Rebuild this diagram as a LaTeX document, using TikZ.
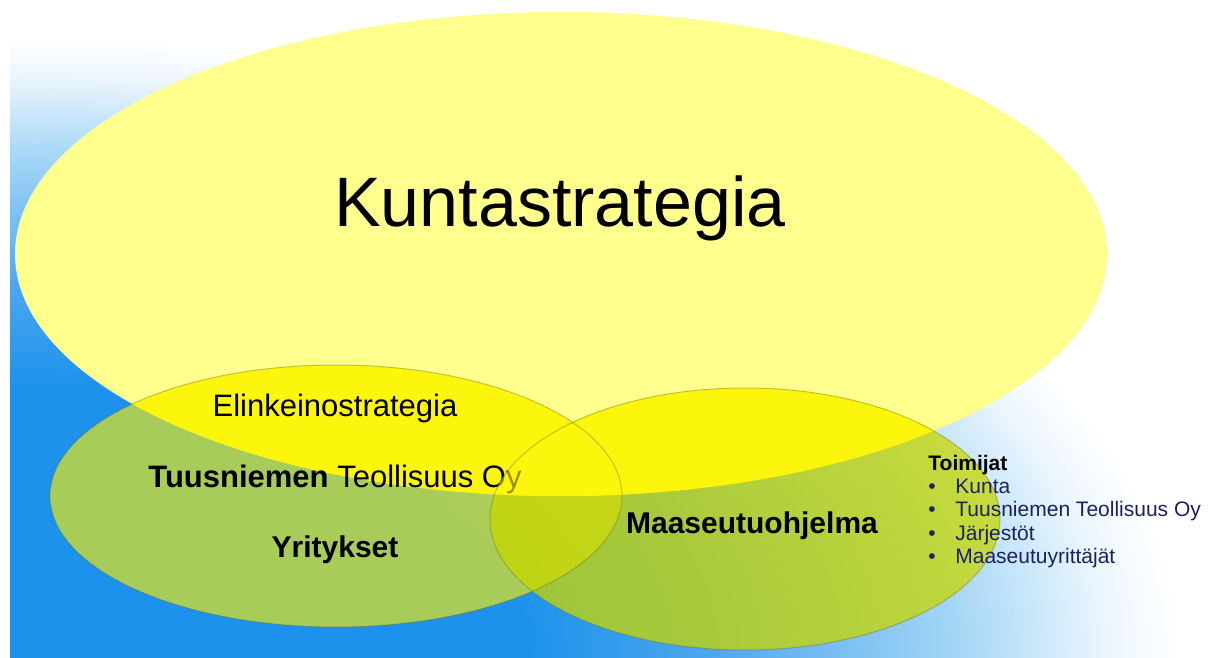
\documentclass[tikz,border=0pt]{standalone}
\usepackage{fontspec}
\setmainfont{Liberation Sans}
\usetikzlibrary{positioning}
\definecolor{skyblue}{RGB}{28,146,236}
\definecolor{skymid}{RGB}{78,166,238}
\definecolor{skylight}{RGB}{160,212,246}
\definecolor{skypale}{RGB}{236,246,253}
\definecolor{kuntayellow}{RGB}{255,255,142}
\definecolor{brightyellow}{RGB}{252,246,12}
\definecolor{elinyellow}{RGB}{255,240,0}
\definecolor{maaolive}{RGB}{200,215,0}
\definecolor{listnavy}{RGB}{26,34,96}
\pgfdeclareradialshading{skyglow}{\pgfpoint{0bp}{0bp}}{color(0bp)=(skyblue); color(11bp)=(skyblue); color(15bp)=(skymid); color(20bp)=(skylight); color(23.5bp)=(skypale); color(25bp)=(white); color(50bp)=(white)}
\newcommand{\kuntaoval}{(561,254) ellipse [x radius=546, y radius=242]}
\newcommand{\elinoval}{(336,496) ellipse [x radius=286, y radius=131]}
\newcommand{\maaoval}{(745,519) ellipse [x radius=255, y radius=131]}
\tikzset{
x=0.5pt, y=-0.5pt, % one unit is one pixel of the slide
node distance=35.5pt, % baseline to baseline in the left oval
every node/.style={inner sep=0pt},
ovaltext/.style={font=\fontsize{15.5}{18}\selectfont},
rim/.style={draw=olive!60!black, draw opacity=.35, line width=.5pt},
}
\begin{document}
\begin{tikzpicture}
\useasboundingbox (0,0) rectangle (1216,658);
% background
\fill[white] (0,0) rectangle (1216,658);
\begin{scope}
\clip (10,0) rectangle (1216,658);
\shade[shading=skyglow] (10,658) ellipse [x radius=1170, y radius=620];
\end{scope}
% ovals
\fill[kuntayellow] \kuntaoval;
\fill[elinyellow, fill opacity=.62] \elinoval;
\fill[maaolive, fill opacity=.75] \maaoval;
\begin{scope}
\clip \kuntaoval;
\fill[brightyellow] \elinoval;
\fill[brightyellow] \maaoval;
\end{scope}
\node[font=\fontsize{35}{42}\selectfont, anchor=base] (kunta) at (560,227) {Kuntastrategia};
\node[ovaltext, anchor=base] (elin) at (335,416) {Elinkeinostrategia};
\node[ovaltext, below of=elin] (tuus) {\bfseries Tuusniemen \mdseries Teollisuus Oy};
\node[ovaltext, below of=tuus, font=\fontsize{15}{18}\selectfont\bfseries] (yrit) {Yritykset};
% right oval lies over the end of the text
\begin{scope}
\clip \kuntaoval;
\fill[brightyellow, fill opacity=.6] \maaoval;
\end{scope}
\path[rim] \elinoval;
\path[rim] \maaoval;
\node[font=\fontsize{15}{18}\selectfont\bfseries, anchor=base] (maa) at (752,533) {Maaseutuohjelma};
\node[anchor=base west, font=\fontsize{10.5}{11.7}\selectfont, text=listnavy] (toimijat) at (928,470) {%
\begin{tabular}[t]{@{}l@{}l@{}}
\multicolumn{2}{@{}l@{}}{\color{black}\bfseries Toimijat}\\
\makebox[13.5pt][l]{\textbullet} & Kunta\\
\makebox[13.5pt][l]{\textbullet} & Tuusniemen Teollisuus Oy\\
\makebox[13.5pt][l]{\textbullet} & Järjestöt\\
\makebox[13.5pt][l]{\textbullet} & Maaseutuyrittäjät
\end{tabular}};
\end{tikzpicture}
\end{document}
